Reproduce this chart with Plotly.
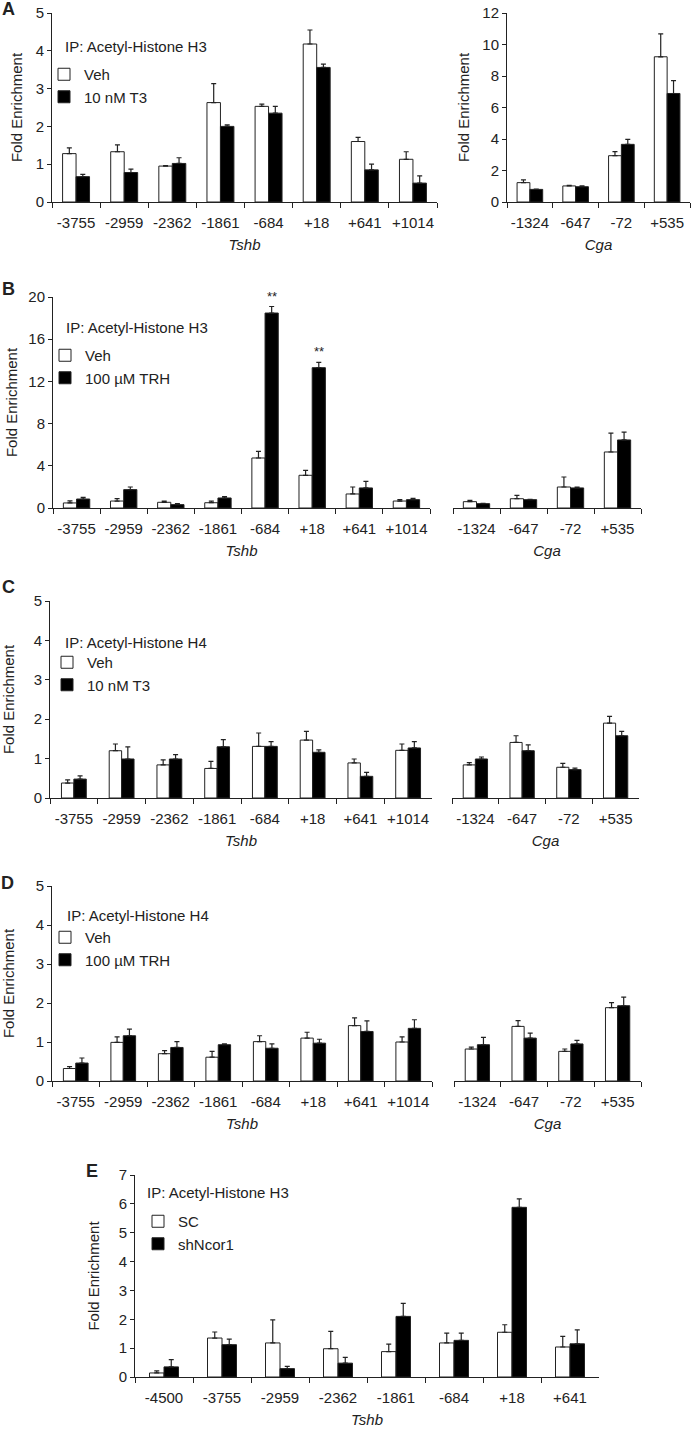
import plotly.graph_objects as go

# ---- data ----
tshb_sites = ["-3755", "-2959", "-2362", "-1861", "-684", "+18", "+641", "+1014"]
cga_sites = ["-1324", "-647", "-72", "+535"]
e_sites = ["-4500", "-3755", "-2959", "-2362", "-1861", "-684", "+18", "+641"]

# A: Acetyl-H3, Veh vs 10 nM T3
a_tshb_veh = [1.28, 1.33, 0.95, 2.63, 2.53, 4.18, 1.60, 1.13]
a_tshb_veh_err = [0.15, 0.18, 0.01, 0.50, 0.06, 0.37, 0.11, 0.20]
a_tshb_t3 = [0.67, 0.78, 1.02, 2.00, 2.35, 3.56, 0.85, 0.50]
a_tshb_t3_err = [0.06, 0.09, 0.15, 0.04, 0.18, 0.09, 0.15, 0.19]
a_cga_veh = [1.23, 1.02, 2.94, 9.22]
a_cga_veh_err = [0.17, 0.03, 0.26, 1.46]
a_cga_t3 = [0.80, 0.97, 3.66, 6.89]
a_cga_t3_err = [0.02, 0.05, 0.32, 0.82]

# B: Acetyl-H3, Veh vs 100 uM TRH
b_tshb_veh = [0.48, 0.66, 0.54, 0.50, 4.74, 3.10, 1.33, 0.66]
b_tshb_veh_err = [0.20, 0.22, 0.12, 0.16, 0.63, 0.47, 0.66, 0.13]
b_tshb_trh = [0.85, 1.74, 0.32, 0.95, 18.48, 13.30, 1.90, 0.79]
b_tshb_trh_err = [0.16, 0.25, 0.09, 0.12, 0.62, 0.50, 0.63, 0.13]
b_cga_veh = [0.60, 0.88, 1.99, 5.31]
b_cga_veh_err = [0.13, 0.32, 0.95, 1.79]
b_cga_trh = [0.41, 0.79, 1.90, 6.45]
b_cga_trh_err = [0.03, 0.03, 0.09, 0.75]
b_signif = ["", "", "", "", "**", "**", "", ""]

# C: Acetyl-H4, Veh vs 10 nM T3
c_tshb_veh = [0.38, 1.20, 0.84, 0.75, 1.31, 1.47, 0.89, 1.21]
c_tshb_veh_err = [0.08, 0.17, 0.13, 0.18, 0.34, 0.22, 0.10, 0.16]
c_tshb_t3 = [0.48, 0.99, 0.99, 1.30, 1.31, 1.16, 0.55, 1.27]
c_tshb_t3_err = [0.08, 0.31, 0.11, 0.18, 0.12, 0.06, 0.10, 0.16]
c_cga_veh = [0.84, 1.41, 0.78, 1.90]
c_cga_veh_err = [0.06, 0.17, 0.10, 0.17]
c_cga_t3 = [0.99, 1.20, 0.72, 1.58]
c_cga_t3_err = [0.05, 0.15, 0.04, 0.11]

# D: Acetyl-H4, Veh vs 100 uM TRH
d_tshb_veh = [0.32, 0.99, 0.70, 0.61, 1.01, 1.10, 1.42, 1.00]
d_tshb_veh_err = [0.05, 0.14, 0.08, 0.15, 0.15, 0.15, 0.20, 0.13]
d_tshb_trh = [0.46, 1.16, 0.86, 0.93, 0.84, 0.97, 1.27, 1.35]
d_tshb_trh_err = [0.13, 0.17, 0.15, 0.02, 0.11, 0.10, 0.27, 0.22]
d_cga_veh = [0.82, 1.40, 0.76, 1.88]
d_cga_veh_err = [0.05, 0.15, 0.06, 0.13]
d_cga_trh = [0.93, 1.10, 0.95, 1.93]
d_cga_trh_err = [0.19, 0.13, 0.09, 0.22]

# E: Acetyl-H3, SC vs shNcor1
e_sc = [0.14, 1.35, 1.18, 0.98, 0.88, 1.18, 1.55, 1.04]
e_sc_err = [0.07, 0.21, 0.80, 0.60, 0.26, 0.34, 0.26, 0.37]
e_sh = [0.35, 1.12, 0.29, 0.48, 2.10, 1.27, 5.88, 1.15]
e_sh_err = [0.25, 0.19, 0.08, 0.20, 0.45, 0.25, 0.29, 0.48]

# ---- layout helpers ----
W, H = 693, 1434
FONT = "Liberation Sans, Arial, sans-serif"
INK = "#222222"
FS = 15


def px(x):
    return x / W


def py(y):
    return 1 - y / H


fig = go.Figure()
layout = {}
annotations = []
count = [0]


def add_axes(x0, x1, ytop, ybot, ymax, dtick, n, show_y, ystandoff=8, gene="", xstandoff=9):
    count[0] += 1
    k = count[0]
    s = "" if k == 1 else str(k)
    layout["xaxis" + s] = dict(
        domain=[px(x0), px(x1)], anchor="y" + s, type="category",
        range=[-0.5, n - 0.5], tickson="boundaries", ticks="outside", ticklen=5,
        showline=True, linecolor=INK, linewidth=1, tickcolor=INK, tickwidth=1,
        showgrid=False, zeroline=False, ticklabelstandoff=7, tickangle=0,
        tickfont=dict(family=FONT, size=FS, color=INK),
        title=dict(text=f"<i>{gene}</i>", standoff=xstandoff,
                   font=dict(family=FONT, size=FS, color=INK)),
    )
    layout["yaxis" + s] = dict(
        domain=[py(ybot), py(ytop)], anchor="x" + s, range=[0, ymax], dtick=dtick,
        visible=show_y, ticks="outside", ticklen=4, showline=True, linecolor=INK,
        linewidth=1, tickcolor=INK, showgrid=False, zeroline=False,
        tickfont=dict(family=FONT, size=FS, color=INK),
        title=dict(text="Fold Enrichment", standoff=ystandoff,
                   font=dict(family=FONT, size=FS, color=INK)),
    )
    return "x" + s, "y" + s


def add_pair(xa, ya, sites, v1, e1, v2, e2, names, w, legend, show):
    for vals, errs, name, fill, off in [(v1, e1, names[0], "white", -w),
                                        (v2, e2, names[1], "black", 0)]:
        fig.add_trace(go.Bar(
            x=sites, y=vals, name=name, xaxis=xa, yaxis=ya,
            width=w, offset=off,
            marker=dict(color=fill, line=dict(color=INK, width=1)),
            error_y=dict(type="data", array=errs, arrayminus=[0] * len(errs),
                         symmetric=False, color=INK, thickness=1.2, width=2.5),
            legend=legend, showlegend=show,
        ))


def add_legend(key, left, top):
    layout[key] = dict(
        x=px(left), y=py(top), xanchor="left", yanchor="top",
        xref="paper", yref="paper", bgcolor="rgba(0,0,0,0)", borderwidth=0,
        font=dict(family=FONT, size=FS, color=INK), tracegroupgap=0,
    )


def text(x, y, t, size=FS, bold=False, xanchor="left"):
    annotations.append(dict(
        x=px(x), y=py(y), xref="paper", yref="paper", text=f"<b>{t}</b>" if bold else t,
        showarrow=False, xanchor=xanchor, yanchor="middle",
        font=dict(family=FONT, size=size, color=INK),
    ))


# ---- panel A ----
xa, ya = add_axes(52, 437, 13, 202, 5, 1, 8, True, ystandoff=9, gene="Tshb")
add_pair(xa, ya, tshb_sites, a_tshb_veh, a_tshb_veh_err, a_tshb_t3, a_tshb_t3_err,
         ["Veh", "10 nM T3"], 0.28, "legend", True)
xa, ya = add_axes(507, 690, 13, 202, 12, 2, 4, True, ystandoff=9, gene="Cga")
add_pair(xa, ya, cga_sites, a_cga_veh, a_cga_veh_err, a_cga_t3, a_cga_t3_err,
         ["Veh", "10 nM T3"], 0.28, "legend", False)
add_legend("legend", 44, 58)
text(63, 47, "IP: Acetyl-Histone H3")
text(8, 9, "A", size=18, bold=True, xanchor="center")

# ---- panel B ----
xa, ya = add_axes(53, 430, 297, 508, 20, 4, 8, True, ystandoff=7, gene="Tshb")
add_pair(xa, ya, tshb_sites, b_tshb_veh, b_tshb_veh_err, b_tshb_trh, b_tshb_trh_err,
         ["Veh", "100 µM TRH"], 0.28, "legend2", True)
for i, mark in enumerate(b_signif):
    if mark:
        annotations.append(dict(
            x=i + 0.14, y=b_tshb_trh[i] + b_tshb_trh_err[i], xref=xa, yref=ya,
            text=mark, showarrow=False, yanchor="bottom", yshift=1,
            font=dict(family=FONT, size=13, color=INK),
        ))
xa, ya = add_axes(453, 641, 297, 508, 20, 4, 4, False, gene="Cga")
add_pair(xa, ya, cga_sites, b_cga_veh, b_cga_veh_err, b_cga_trh, b_cga_trh_err,
         ["Veh", "100 µM TRH"], 0.28, "legend2", False)
add_legend("legend2", 45, 339)
text(64, 327, "IP: Acetyl-Histone H3")
text(8, 289, "B", size=18, bold=True, xanchor="center")

# ---- panel C ----
xa, ya = add_axes(50, 432, 601, 798, 5, 1, 8, True, ystandoff=19, gene="Tshb")
add_pair(xa, ya, tshb_sites, c_tshb_veh, c_tshb_veh_err, c_tshb_t3, c_tshb_t3_err,
         ["Veh", "10 nM T3"], 0.26, "legend3", True)
xa, ya = add_axes(452, 639, 601, 798, 5, 1, 4, False, gene="Cga")
add_pair(xa, ya, cga_sites, c_cga_veh, c_cga_veh_err, c_cga_t3, c_cga_t3_err,
         ["Veh", "10 nM T3"], 0.26, "legend3", False)
add_legend("legend3", 47, 646)
text(63, 642, "IP: Acetyl-Histone H4")
text(8, 587, "C", size=18, bold=True, xanchor="center")

# ---- panel D ----
xa, ya = add_axes(52, 432, 886, 1081, 5, 1, 8, True, ystandoff=19, gene="Tshb")
add_pair(xa, ya, tshb_sites, d_tshb_veh, d_tshb_veh_err, d_tshb_trh, d_tshb_trh_err,
         ["Veh", "100 µM TRH"], 0.26, "legend4", True)
xa, ya = add_axes(454, 641, 886, 1081, 5, 1, 4, False, gene="Cga")
add_pair(xa, ya, cga_sites, d_cga_veh, d_cga_veh_err, d_cga_trh, d_cga_trh_err,
         ["Veh", "100 µM TRH"], 0.26, "legend4", False)
add_legend("legend4", 45, 921)
text(65, 915, "IP: Acetyl-Histone H4")
text(7, 883, "D", size=18, bold=True, xanchor="center")

# ---- panel E ----
xa, ya = add_axes(135, 599, 1175, 1377, 7, 1, 8, True, ystandoff=15, gene="Tshb")
add_pair(xa, ya, e_sites, e_sc, e_sc_err, e_sh, e_sh_err,
         ["SC", "shNcor1"], 0.25, "legend5", True)
add_legend("legend5", 138, 1205)
text(145, 1192, "IP: Acetyl-Histone H3")
text(92, 1171, "E", size=18, bold=True, xanchor="center")

fig.update_layout(
    **layout,
    annotations=annotations,
    width=W, height=H,
    margin=dict(l=0, r=0, t=0, b=0),
    template="none",
    paper_bgcolor="white", plot_bgcolor="white",
    barmode="overlay",
    font=dict(family=FONT, size=FS, color=INK),
)

# drop the browser's default 8px body margin so the figure sits at the page origin
fig.write_html("out.html", config={"displayModeBar": False},
               post_script="document.body.style.margin='0';")
